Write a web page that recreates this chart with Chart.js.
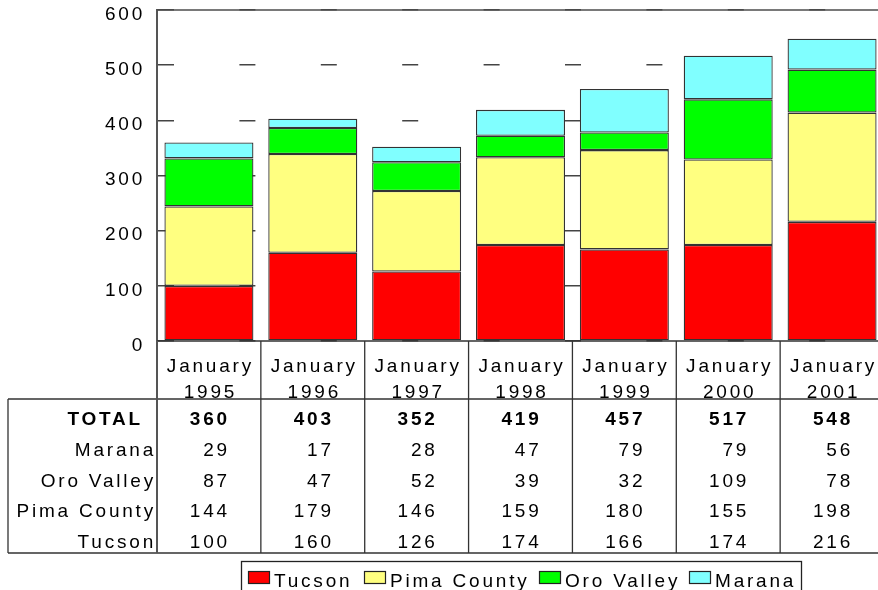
<!DOCTYPE html>
<html>
<head>
<meta charset="utf-8">
<title>Stacked totals</title>
<script src="https://cdn.jsdelivr.net/npm/chart.js@4/dist/chart.umd.min.js"></script>
<style>
    html, body { margin: 0; padding: 0; background: #fff; overflow: hidden; }
    #wrap { width: 886px; height: 590px; }
</style>
</head>
<body>
<div id="wrap"><canvas id="mainChart" width="886" height="590"></canvas></div>
<script>
const months = ['January', 'January', 'January', 'January', 'January', 'January', 'January'];
const years = ['1995', '1996', '1997', '1998', '1999', '2000', '2001'];
const tucson = [100, 160, 126, 174, 166, 174, 216];
const pimaCounty = [144, 179, 146, 159, 180, 155, 198];
const oroValley = [87, 47, 52, 39, 32, 109, 78];
const marana = [29, 17, 28, 47, 79, 79, 56];
const totals = [360, 403, 352, 419, 457, 517, 548];
const yTicks = [0, 100, 200, 300, 400, 500, 600];

const FONT = '"Liberation Sans", Arial, sans-serif';
const FONT_SIZE = 19;
const SPACING = '2.8px';

// table rows under the chart, top to bottom
const tableRows = [
    { label: 'TOTAL', values: totals, bold: true },
    { label: 'Marana', values: marana },
    { label: 'Oro Valley', values: oroValley },
    { label: 'Pima County', values: pimaCounty },
    { label: 'Tucson', values: tucson }
];

// the old chart draws its text with wide letter spacing
const spacingPlugin = {
    id: 'spacing',
    beforeDraw(chart) {
        chart.ctx.letterSpacing = SPACING;
    }
};

const tablePlugin = {
    id: 'dataTable',
    afterDraw(chart) {
        const ctx = chart.ctx;
        const area = chart.chartArea;
        const xs = chart.scales.x;
        const W = chart.width;
        const colW = (area.right - area.left) / years.length;
        const base = area.bottom;
        const headBottom = 399;
        const tableBottom = 553;
        const font = FONT_SIZE + 'px ' + FONT;

        ctx.save();
        ctx.letterSpacing = SPACING;

        // frame top line
        ctx.strokeStyle = '#4d4d4d';
        ctx.lineWidth = 1.5;
        ctx.beginPath();
        ctx.moveTo(area.left, area.top);
        ctx.lineTo(W, area.top);
        ctx.stroke();

        // table grid
        ctx.strokeStyle = '#333';
        ctx.lineWidth = 1.3;
        ctx.beginPath();
        ctx.moveTo(area.left, base);
        ctx.lineTo(W, base);
        ctx.moveTo(8, headBottom);
        ctx.lineTo(W, headBottom);
        ctx.moveTo(8, tableBottom);
        ctx.lineTo(W, tableBottom);
        ctx.moveTo(8, headBottom);
        ctx.lineTo(8, tableBottom);
        for (let k = 1; k <= years.length; k++) {
            const x = area.left + k * colW;
            ctx.moveTo(x, base);
            ctx.lineTo(x, tableBottom);
        }
        ctx.stroke();

        ctx.strokeStyle = '#555';
        ctx.lineWidth = 2;
        ctx.beginPath();
        ctx.moveTo(area.left, base);
        ctx.lineTo(area.left, tableBottom);
        ctx.stroke();

        // header cells (year line gets clipped by the row line, like the original)
        ctx.fillStyle = '#000';
        ctx.font = font;
        ctx.textAlign = 'center';
        ctx.textBaseline = 'alphabetic';
        ctx.save();
        ctx.beginPath();
        ctx.rect(0, base, W, headBottom - base - 1);
        ctx.clip();
        years.forEach((yr, i) => {
            const cx = xs.getPixelForValue(i) + 1.5;
            ctx.fillText(months[i], cx, 372);
            ctx.fillText(yr, cx, 397.5);
        });
        ctx.restore();

        // rows
        const rowY = [424.5, 455.5, 486.5, 517, 547.5];
        tableRows.forEach((row, r) => {
            ctx.font = (row.bold ? 'bold ' : '') + font;
            ctx.textAlign = 'right';
            ctx.fillText(row.label, row.bold ? 143 : 156, rowY[r]);
            row.values.forEach((v, i) => {
                ctx.fillText(String(v), xs.getPixelForValue(i) + 21, rowY[r]);
            });
        });

        // legend box
        ctx.strokeStyle = '#222';
        ctx.lineWidth = 1.3;
        ctx.strokeRect(241.5, 561.5, 560, 60);
        const swatchX = [248, 364, 539, 689];
        ctx.font = font;
        ctx.textAlign = 'left';
        chart.data.datasets.forEach((ds, i) => {
            ctx.fillStyle = ds.backgroundColor;
            ctx.fillRect(swatchX[i], 571, 22, 12);
            ctx.lineWidth = 1.2;
            ctx.strokeRect(swatchX[i] + 0.5, 571.5, 21, 12);
            ctx.fillStyle = '#000';
            ctx.fillText(ds.label, swatchX[i] + 26, 587);
        });

        ctx.restore();
    }
};

function initChart() {
    const ctx = document.getElementById('mainChart').getContext('2d');
    const barStyle = { borderColor: '#333', borderWidth: 1.3, borderSkipped: false };

    new Chart(ctx, {
        type: 'bar',
        data: {
            labels: years,
            datasets: [
                Object.assign({ label: 'Tucson', data: tucson, backgroundColor: '#ff0000' }, barStyle),
                Object.assign({ label: 'Pima County', data: pimaCounty, backgroundColor: '#ffff80' }, barStyle),
                Object.assign({ label: 'Oro Valley', data: oroValley, backgroundColor: '#00ff00' }, barStyle),
                Object.assign({ label: 'Marana', data: marana, backgroundColor: '#80ffff' }, barStyle)
            ]
        },
        options: {
            responsive: false,
            animation: false,
            devicePixelRatio: 1,
            layout: { padding: { top: 10, bottom: 249, left: 0, right: 2 } },
            datasets: { bar: { categoryPercentage: 1, barPercentage: 0.857 } },
            plugins: {
                legend: { display: false },
                tooltip: { enabled: false }
            },
            scales: {
                x: {
                    stacked: true,
                    display: false
                },
                y: {
                    stacked: true,
                    min: 0,
                    max: 600,
                    afterBuildTicks: (scale) => { scale.ticks = yTicks.map(v => ({ value: v })); },
                    afterFit: (scale) => {
                        scale.width = 157;
                        // keep the plot top pinned to the layout padding
                        scale.paddingTop = 0;
                        scale.paddingBottom = 0;
                    },
                    ticks: {
                        color: '#000',
                        padding: 12,
                        labelOffset: 4.5,
                        font: { family: FONT, size: FONT_SIZE }
                    },
                    grid: { color: '#444', lineWidth: 1.5, drawTicks: false },
                    border: { display: true, color: '#555', width: 2, dash: [16, 65.4], dashOffset: 0 }
                }
            }
        },
        plugins: [spacingPlugin, tablePlugin]
    });
}

document.addEventListener('DOMContentLoaded', initChart);
</script>
</body>
</html>
